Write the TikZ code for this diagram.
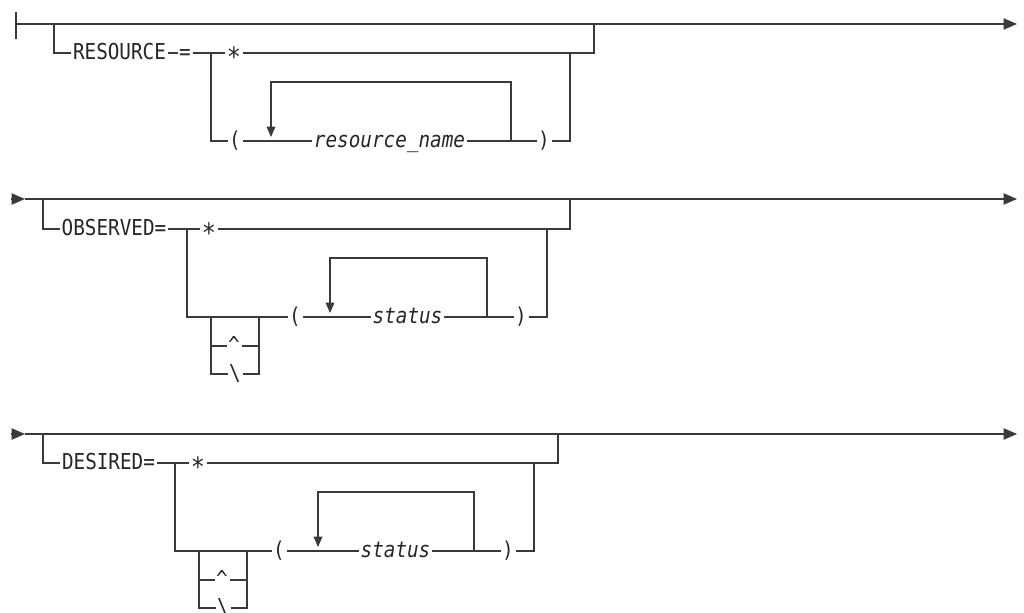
\documentclass[tikz,border=0pt]{standalone}
\usepackage{fontspec}
\usepackage{xcolor}
\usepackage{tikz}
\usetikzlibrary{arrows.meta}
\newfontfamily\railfont[FakeStretch=0.88]{DejaVu Sans Mono}
\definecolor{railLine}{RGB}{58,58,58}
\definecolor{railText}{RGB}{38,38,38}
\tikzset{
  railpath/.style={draw=railLine, line width=0.95pt},
  railend/.style={railpath, -{Triangle[length=9.5pt,width=8pt]}},
  railloop/.style={railpath, -{Triangle[length=7.5pt,width=6.2pt]}, shorten >=2.8pt},
  railtok/.style={text=railText, font=\railfont\fontsize{15.6pt}{18pt}\selectfont,
    text height=9.6pt, text depth=0pt, inner xsep=1pt, inner ysep=0pt},
  railvar/.style={railtok, font=\railfont\fontsize{15.6pt}{18pt}\selectfont\itshape},
}
\newcommand{\railall}{\raisebox{-4.5pt}{\fontsize{19pt}{20pt}\selectfont *}}

\begin{document}
\begin{tikzpicture}[x=0.25mm,y=-0.25mm]
  \useasboundingbox (0,0) rectangle (1024,612);

  % --- RESOURCE= row ---
  \coordinate (s1bartop) at (16,12);
  \coordinate (s1barbot) at (16,39);
  \coordinate (s1in) at (16,24);
  \coordinate (s1out) at (1017,24);
  \coordinate (s1skipL) at (54,24);
  \coordinate (s1skipR) at (594,24);
  \coordinate (s1split) at (211,53);
  \coordinate (s1join) at (570,53);
  \coordinate (s1loopR) at (511,141);
  \coordinate (s1loopL) at (271,141);
  \coordinate (s1looptop) at (271,82);
  \node[railtok] (resource) at (119.5,53) {RESOURCE};
  \node[railtok] (reseq) at (185,53) {=};
  \node[railtok] (resall) at (234,53) {\railall};
  \node[railtok] (resopen) at (235,141) {(};
  \node[railvar] (resname) at (389.5,141) {resource\_name};
  \node[railtok] (resclose) at (544,141) {)};

  \draw[railpath] (s1bartop) -- (s1barbot);
  \draw[railend] (s1in) -- (s1out);
  \draw[railpath] (s1skipL) |- (resource.west);
  \draw[railpath] (resource.east) -- (reseq.west);
  \draw[railpath] (reseq.east) -- (resall.west);
  \draw[railpath] (resall.east) -| (s1skipR);
  \draw[railpath] (s1split) |- (resopen.west);
  \draw[railpath] (resopen.east) -- (resname.west);
  \draw[railpath] (resname.east) -- (resclose.west);
  \draw[railpath] (resclose.east) -| (s1join);
  \draw[railloop] (s1loopR) |- (s1looptop) -- (s1loopL);

  % --- OBSERVED= row ---
  \coordinate (s2arrow) at (11,199);
  \coordinate (s2in) at (25,199);
  \coordinate (s2out) at (1017,199);
  \coordinate (s2skipL) at (43,199);
  \coordinate (s2skipR) at (570,199);
  \coordinate (s2split) at (187,229);
  \coordinate (s2join) at (547,229);
  \coordinate (s2boxL) at (211,317);
  \coordinate (s2boxR) at (259,317);
  \coordinate (s2loopR) at (487,317);
  \coordinate (s2loopL) at (330,317);
  \coordinate (s2looptop) at (330,258);
  \node[railtok] (obs) at (114,229) {OBSERVED=};
  \node[railtok] (obsall) at (209,229) {\railall};
  \node[railtok] (obsnot) at (234,346) {\textasciicircum};
  \node[railtok] (obsbs) at (235,374) {\textbackslash};
  \node[railtok] (obsopen) at (295,317) {(};
  \node[railvar] (obsstat) at (407.5,317) {status};
  \node[railtok] (obsclose) at (521,317) {)};

  \draw[railend] (s2arrow) -- (s2in);
  \draw[railend] (s2in) -- (s2out);
  \draw[railpath] (s2skipL) |- (obs.west);
  \draw[railpath] (obs.east) -- (obsall.west);
  \draw[railpath] (obsall.east) -| (s2skipR);
  \draw[railpath] (s2split) |- (obsopen.west);
  \draw[railpath] (s2boxL) |- (obsnot.west);
  \draw[railpath] (obsnot.east) -| (s2boxR);
  \draw[railpath] (s2boxL) |- (obsbs.west);
  \draw[railpath] (obsbs.east) -| (s2boxR);
  \draw[railpath] (obsopen.east) -- (obsstat.west);
  \draw[railpath] (obsstat.east) -- (obsclose.west);
  \draw[railpath] (obsclose.east) -| (s2join);
  \draw[railloop] (s2loopR) |- (s2looptop) -- (s2loopL);

  % --- DESIRED= row ---
  \coordinate (s3arrow) at (11,434);
  \coordinate (s3in) at (25,434);
  \coordinate (s3out) at (1017,434);
  \coordinate (s3skipL) at (43,434);
  \coordinate (s3skipR) at (558,434);
  \coordinate (s3split) at (175,463);
  \coordinate (s3join) at (534,463);
  \coordinate (s3boxL) at (199,551);
  \coordinate (s3boxR) at (247,551);
  \coordinate (s3loopR) at (474,551);
  \coordinate (s3loopL) at (318,551);
  \coordinate (s3looptop) at (318,492);
  \node[railtok] (des) at (108.5,463) {DESIRED=};
  \node[railtok] (desall) at (198,463) {\railall};
  \node[railtok] (desnot) at (222,580) {\textasciicircum};
  \node[railtok] (desbs) at (223,608) {\textbackslash};
  \node[railtok] (desopen) at (279,551) {(};
  \node[railvar] (desstat) at (395.5,551) {status};
  \node[railtok] (desclose) at (508,551) {)};

  \draw[railend] (s3arrow) -- (s3in);
  \draw[railend] (s3in) -- (s3out);
  \draw[railpath] (s3skipL) |- (des.west);
  \draw[railpath] (des.east) -- (desall.west);
  \draw[railpath] (desall.east) -| (s3skipR);
  \draw[railpath] (s3split) |- (desopen.west);
  \draw[railpath] (s3boxL) |- (desnot.west);
  \draw[railpath] (desnot.east) -| (s3boxR);
  \draw[railpath] (s3boxL) |- (desbs.west);
  \draw[railpath] (desbs.east) -| (s3boxR);
  \draw[railpath] (desopen.east) -- (desstat.west);
  \draw[railpath] (desstat.east) -- (desclose.west);
  \draw[railpath] (desclose.east) -| (s3join);
  \draw[railloop] (s3loopR) |- (s3looptop) -- (s3loopL);
\end{tikzpicture}
\end{document}
